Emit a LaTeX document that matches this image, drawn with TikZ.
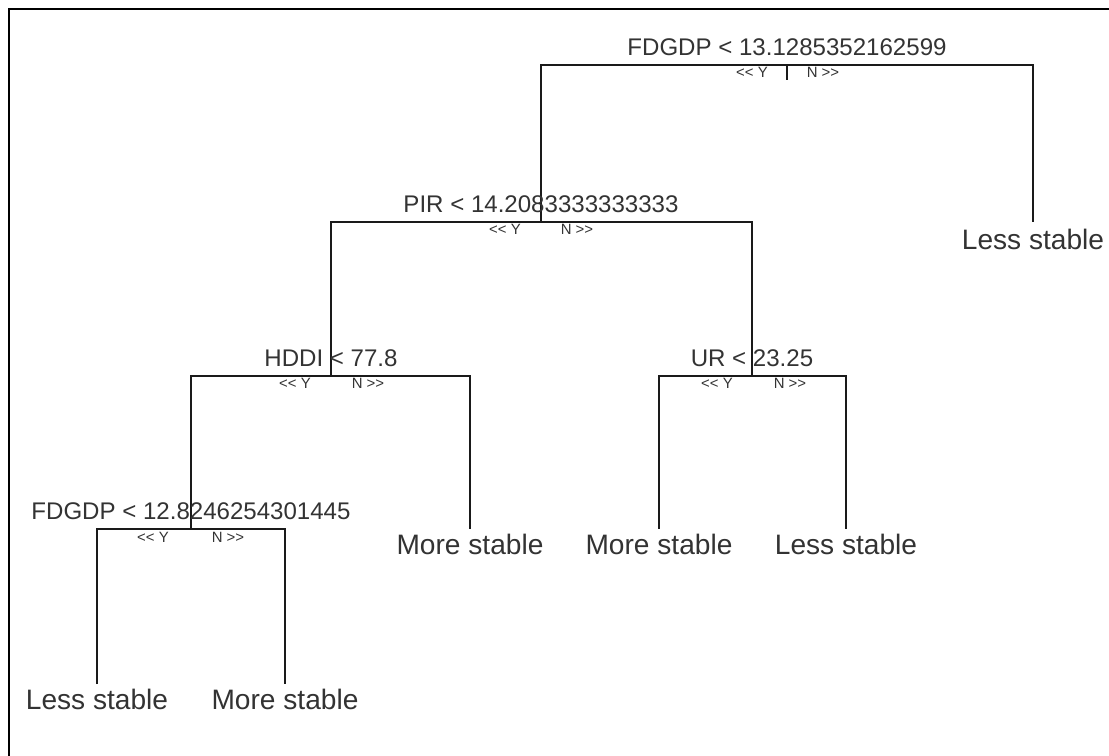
\documentclass[tikz,border=0pt]{standalone}
\usepackage{fontspec}
\setmainfont{Liberation Sans}
\usetikzlibrary{positioning}
\definecolor{inkgray}{HTML}{333333}
\definecolor{linegray}{HTML}{1A1A1A}
\newcommand{\yesmark}{\mbox{<}\mbox{<} Y}
\newcommand{\nomark}{N \mbox{>}\mbox{>}}

\begin{document}
\begin{tikzpicture}[
  x=0.02cm,y=-0.02cm,
  split/.style={font=\fontsize{13.7}{16}\selectfont,text=inkgray,inner sep=0pt},
  leaf/.style={font=\fontsize{16}{19}\selectfont,text=inkgray,inner sep=0pt},
  yn/.style={font=\fontsize{8.5}{10}\selectfont,text=inkgray,inner sep=0pt,anchor=base},
  branch/.style={draw=linegray,line width=1pt},
  frame/.style={draw=black,line width=1.5pt}
]
  \useasboundingbox (0,0) rectangle (1109,756);
  \draw[frame] (1109,9) -- (9,9) -- (9,756);

  % split points of the tree
  \coordinate (sFdgdpTop) at (787,65);
  \coordinate (sPir) at (541,222);
  \coordinate (sHddi) at (331,376);
  \coordinate (sUr) at (752,376);
  \coordinate (sFdgdpLow) at (191,529);
  % ends of the leaf branches
  \coordinate (eLessTop) at (1033,222);
  \coordinate (eMoreHddi) at (470,529);
  \coordinate (eMoreUr) at (659,529);
  \coordinate (eLessUr) at (846,529);
  \coordinate (eLessLow) at (97,684);
  \coordinate (eMoreLow) at (285,684);

  % branches
  \draw[branch] (sPir) |- (sFdgdpTop) -| (eLessTop);
  \draw[branch] (sFdgdpTop) -- ++(0,15);
  \draw[branch] (sHddi) |- (sPir) -| (sUr);
  \draw[branch] (sFdgdpLow) |- (sHddi) -| (eMoreHddi);
  \draw[branch] (eMoreUr) |- (sUr) -| (eLessUr);
  \draw[branch] (eLessLow) |- (sFdgdpLow) -| (eMoreLow);

  % split labels
  \node[split,above=5pt of sFdgdpTop] (fdgdpTop) {FDGDP < 13.1285352162599};
  \node[split,above=5pt of sPir] (pir) {PIR < 14.2083333333333};
  \node[split,above=5pt of sHddi] (hddi) {HDDI < 77.8};
  \node[split,above=5pt of sUr] (ur) {UR < 23.25};
  \node[split,above=5pt of sFdgdpLow] (fdgdpLow) {FDGDP < 12.8246254301445};

  % yes / no labels
  \node[yn] (fdgdpTopY) at (752,78) {\yesmark};
  \node[yn] (fdgdpTopN) at (823,78) {\nomark};
  \node[yn] (pirY) at (505,235) {\yesmark};
  \node[yn] (pirN) at (577,235) {\nomark};
  \node[yn] (hddiY) at (295,389) {\yesmark};
  \node[yn] (hddiN) at (368,389) {\nomark};
  \node[yn] (urY) at (717,389) {\yesmark};
  \node[yn] (urN) at (790,389) {\nomark};
  \node[yn] (fdgdpLowY) at (153,542) {\yesmark};
  \node[yn] (fdgdpLowN) at (228,542) {\nomark};

  % leaves
  \node[leaf,below=4pt of eLessTop] (lessTop) {Less stable};
  \node[leaf,below=3pt of eMoreHddi] (moreHddi) {More stable};
  \node[leaf,below=3pt of eMoreUr] (moreUr) {More stable};
  \node[leaf,below=3pt of eLessUr] (lessUr) {Less stable};
  \node[leaf,below=3pt of eLessLow] (lessLow) {Less stable};
  \node[leaf,below=3pt of eMoreLow] (moreLow) {More stable};
\end{tikzpicture}
\end{document}
